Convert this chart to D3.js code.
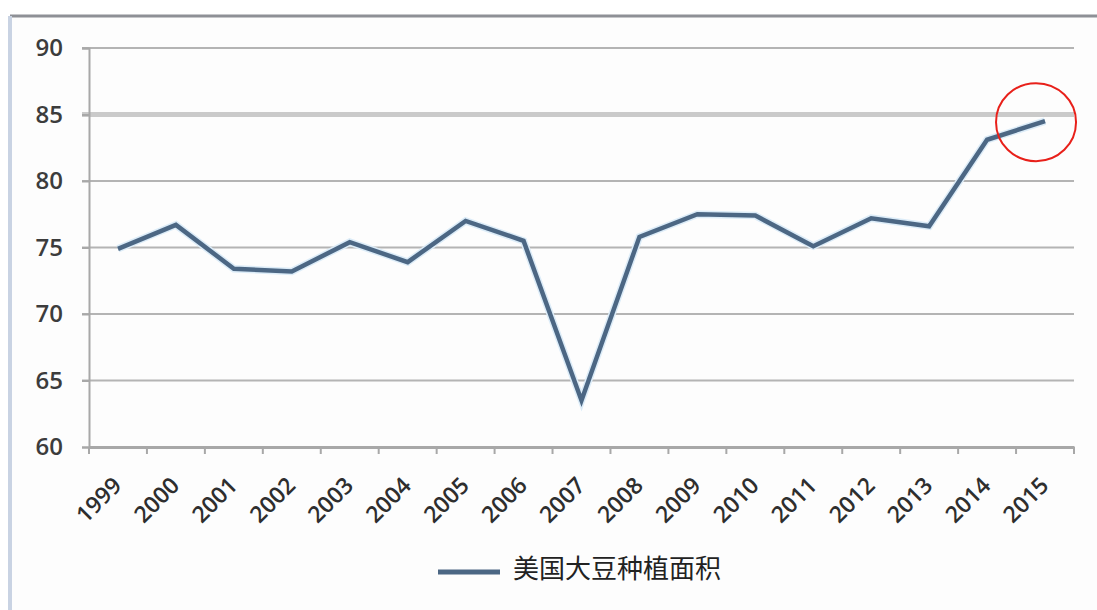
<!DOCTYPE html>
<html>
<head>
<meta charset="utf-8">
<script src="https://cdn.jsdelivr.net/npm/d3@7"></script>
<style>
  html, body { margin: 0; padding: 0; background: #ffffff; }
  svg { display: block; }
</style>
</head>
<body>
<svg id="chart" width="1097" height="610"></svg>
<script>
const years = ["1999","2000","2001","2002","2003","2004","2005","2006","2007","2008","2009","2010","2011","2012","2013","2014","2015"];
const area = [74.9, 76.7, 73.4, 73.2, 75.4, 73.9, 77.0, 75.5, 63.5, 75.8, 77.5, 77.4, 75.1, 77.2, 76.6, 83.1, 84.5];
const yTicks = [60, 65, 70, 75, 80, 85, 90];
const seriesName = "美国大豆种植面积";

const svg = d3.select("#chart");
const W = 1097, H = 610;
const m = { left: 89, right: 1074, top: 48, bottom: 447 };

// frame
svg.append("rect").attr("x", 10).attr("y", 16).attr("width", W - 10).attr("height", H - 16)
  .attr("fill", "#fdfdfd");
svg.append("line").attr("x1", 10).attr("x2", W).attr("y1", 16).attr("y2", 16)
  .attr("stroke", "#8e9096").attr("stroke-width", 3);
svg.append("line").attr("x1", 10).attr("x2", 10).attr("y1", 16).attr("y2", H)
  .attr("stroke", "#c9d3e3").attr("stroke-width", 4);

const x = d3.scaleBand().domain(years).range([m.left, m.right]).padding(0);
const y = d3.scaleLinear().domain([60, 90]).range([m.bottom, m.top]);

// gridlines
svg.append("g").selectAll("line").data(yTicks.filter(d => d !== 60)).join("line")
  .attr("x1", m.left - 7).attr("x2", m.right)
  .attr("y1", d => y(d)).attr("y2", d => y(d))
  .attr("stroke", d => d === 85 ? "#cacaca" : "#b4b4b4")
  .attr("stroke-width", d => d === 85 ? 5 : 2);

// y axis
const yAxis = d3.axisLeft(y).tickValues(yTicks).tickSize(7).tickPadding(19);
const gy = svg.append("g").attr("transform", `translate(${m.left},0)`).call(yAxis);
gy.select(".domain").attr("stroke", "#a8a8a8").attr("stroke-width", 2);
gy.selectAll(".tick line").attr("stroke", "#a8a8a8").attr("stroke-width", 2);
gy.selectAll("text").attr("font-family", "'Open Sans', sans-serif").attr("font-size", 24)
  .attr("font-weight", 600).attr("fill", "#3c3c3c");

// x axis
const xAxis = d3.axisBottom(x).tickSize(0);
const gx = svg.append("g").attr("transform", `translate(0,${m.bottom})`).call(xAxis);
gx.select(".domain").attr("stroke", "#a8a8a8").attr("stroke-width", 3);
// tick marks at band boundaries
const bounds = years.map(d => x(d)).concat([x(years[years.length - 1]) + x.bandwidth()]);
gx.append("g").selectAll("line").data(bounds).join("line")
  .attr("x1", d => d).attr("x2", d => d).attr("y1", 0).attr("y2", 7)
  .attr("stroke", "#a8a8a8").attr("stroke-width", 2);
gx.selectAll(".tick text")
  .attr("font-family", "'Open Sans', sans-serif").attr("font-size", 23).attr("font-weight", 600)
  .attr("fill", "#2e2e2e")
  .attr("text-anchor", "end")
  .attr("x", 0).attr("y", 0).attr("dy", 0)
  .attr("transform", "translate(5,40) rotate(-45)");

// line
const line = d3.line().x((d, i) => x(years[i]) + x.bandwidth() / 2).y(d => y(d));
svg.append("path").datum(area).attr("d", line)
  .attr("fill", "none").attr("stroke", "#dcecf8").attr("stroke-width", 7.5)
  .attr("stroke-linejoin", "miter");
svg.append("path").datum(area).attr("d", line)
  .attr("fill", "none").attr("stroke", "#4c6784").attr("stroke-width", 4.5)
  .attr("stroke-linejoin", "miter");

// red highlight circle around last point
const last = years.length - 1;
svg.append("ellipse")
  .attr("cx", x(years[last]) + x.bandwidth() / 2 - 9)
  .attr("cy", y(area[last]) + 1)
  .attr("rx", 40).attr("ry", 39)
  .attr("fill", "none").attr("stroke", "#e8201a").attr("stroke-width", 2);

// legend
const lg = svg.append("g").attr("transform", "translate(438,572)");
lg.append("line").attr("x1", 0).attr("x2", 62).attr("y1", 0).attr("y2", 0)
  .attr("stroke", "#4c6784").attr("stroke-width", 5);
lg.append("text").attr("x", 75).attr("y", -3).attr("dy", "0.35em")
  .attr("font-family", "'Noto Sans CJK SC', sans-serif").attr("font-size", 26)
  .attr("fill", "#222222").text(seriesName);
</script>
</body>
</html>
